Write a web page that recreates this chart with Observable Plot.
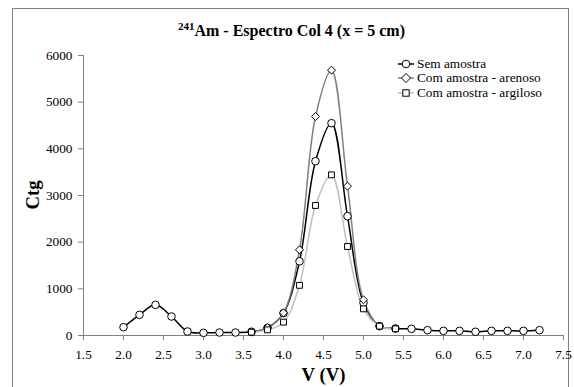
<!DOCTYPE html>
<html><head><meta charset="utf-8">
<script src="https://cdn.jsdelivr.net/npm/d3@7"></script>
<script src="https://cdn.jsdelivr.net/npm/@observablehq/plot@0.6"></script>
<style>
body{margin:0;width:574px;height:387px;overflow:hidden;background:#fff;font-family:"Liberation Serif","Times New Roman",serif;position:relative;color:#000}
#frame{position:absolute;left:12px;top:8px;width:557px;height:420px;border:1px solid #808080;box-sizing:border-box}
#title{position:absolute;left:12px;width:559px;top:23px;text-align:center;font-weight:bold;font-size:16px;line-height:16px;white-space:nowrap}
#title .sup{font-size:11px;position:relative;top:-6px}
#chart{position:absolute;left:0;top:0}
#legend{position:absolute;left:398px;top:57px;font-size:13.3px}
#legend .row{height:14.3px;line-height:14.3px;display:flex;align-items:center;white-space:nowrap}
#legend svg{margin-right:3px}
#xlabel{position:absolute;left:83px;width:481px;top:365px;text-align:center;font-weight:bold;font-size:18.7px;line-height:19px}
#ylabel{position:absolute;left:32px;top:195px;font-weight:bold;font-size:18.7px;line-height:19px;transform:translate(-50%,-50%) rotate(-90deg);white-space:nowrap}
</style>
</head><body>
<div id="frame"></div>
<div id="chart"></div>
<div id="title"><span class="sup">241</span>Am - Espectro Col 4 (x = 5 cm)</div>
<div id="xlabel">V (V)</div>
<div id="ylabel">Ctg</div>
<div id="legend"></div>
<script>
// Data
const seriesNames = ["Sem amostra", "Com amostra - arenoso", "Com amostra - argiloso"];
const vSem = [2.0, 2.2, 2.4, 2.6, 2.8, 3.0, 3.2, 3.4, 3.6, 3.8, 4.0, 4.2, 4.4, 4.6, 4.8, 5.0, 5.2, 5.4, 5.6, 5.8, 6.0, 6.2, 6.4, 6.6, 6.8, 7.0, 7.2];
const ctgSem = [178, 443, 657, 407, 86, 57, 64, 64, 79, 164, 479, 1590, 3735, 4550, 2557, 700, 200, 150, 143, 114, 100, 100, 79, 100, 100, 100, 114];
const vAmostra = [3.6, 3.8, 4.0, 4.2, 4.4, 4.6, 4.8, 5.0, 5.2, 5.4];
const ctgArenoso = [80, 170, 486, 1836, 4693, 5686, 3200, 765, 200, 150];
const ctgArgiloso = [71, 121, 286, 1075, 2786, 3443, 1907, 571, 200, 143];
const xTicks = [1.5, 2.0, 2.5, 3.0, 3.5, 4.0, 4.5, 5.0, 5.5, 6.0, 6.5, 7.0, 7.5];
const yTicks = [0, 1000, 2000, 3000, 4000, 5000, 6000];

const sem = vSem.map((v, i) => ({v, c: ctgSem[i]}));
const aren = vAmostra.map((v, i) => ({v, c: ctgArenoso[i]}));
const argi = vAmostra.map((v, i) => ({v, c: ctgArgiloso[i]}));

const styles = [
  {data: sem, stroke: "#000000", symbol: "circle", r: 3.8},
  {data: aren, stroke: "#808080", symbol: "diamond2", r: 3.6},
  {data: argi, stroke: "#c0c0c0", symbol: "square", r: 3.3}
];

const marks = [
  Plot.ruleY([0], {stroke: "#808080"}),
  Plot.ruleX([1.5], {stroke: "#808080"}),
  Plot.axisX(xTicks, {tickFormat: d => d.toFixed(1), tickSize: 5, tickPadding: 9, stroke: "#808080", fill: "#000", label: null}),
  Plot.axisY(yTicks, {tickFormat: d => String(d), tickSize: 5, tickPadding: 6, stroke: "#808080", fill: "#000", label: null})
];
for (const s of styles) {
  marks.push(Plot.line(s.data, {x: "v", y: "c", stroke: s.stroke, strokeWidth: 1.5, curve: "catmull-rom"}));
}
for (const s of styles) {
  marks.push(Plot.dot(s.data, {x: "v", y: "c", symbol: s.symbol, r: s.r, fill: "white", stroke: "black", strokeWidth: 1}));
}

const chart = Plot.plot({
  width: 574, height: 387,
  marginLeft: 83, marginRight: 11, marginTop: 55, marginBottom: 52,
  style: {fontFamily: "'Liberation Serif', 'Times New Roman', serif", fontSize: "13.3px", color: "#000", background: "transparent"},
  x: {domain: [1.5, 7.5]},
  y: {domain: [0, 6000]},
  marks
});
document.getElementById("chart").appendChild(chart);

// Legend
const legend = document.getElementById("legend");
const symPaths = {
  circle: '<circle cx="8" cy="7" r="3.8" fill="white" stroke="black"/>',
  diamond2: '<path d="M8,2.5L12.5,7L8,11.5L3.5,7Z" fill="white" stroke="black"/>',
  square: '<rect x="4.8" y="3.8" width="6.4" height="6.4" fill="white" stroke="black"/>'
};
styles.forEach((s, i) => {
  const row = document.createElement("div");
  row.className = "row";
  row.innerHTML = `<svg width="16" height="14"><line x1="0" x2="16" y1="7" y2="7" stroke="${s.stroke}" stroke-width="1.5"/>${symPaths[s.symbol]}</svg><span>${seriesNames[i]}</span>`;
  legend.appendChild(row);
});
</script>
</body></html>
